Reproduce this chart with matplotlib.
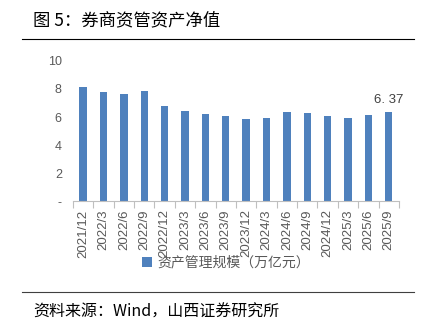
import matplotlib.pyplot as plt
import numpy as np

plt.rcParams['font.family'] = ['Noto Sans CJK SC', 'DejaVu Sans']

quarters = ['2021/12', '2022/3', '2022/6', '2022/9', '2022/12', '2023/3', '2023/6', '2023/9',
            '2023/12', '2024/3', '2024/6', '2024/9', '2024/12', '2025/3', '2025/6', '2025/9']
aum = [8.17, 7.82, 7.65, 7.87, 6.82, 6.44, 6.25, 6.08,
       5.88, 5.93, 6.38, 6.32, 6.08, 5.92, 6.12, 6.37]
yticks = [0, 2, 4, 6, 8, 10]
ytick_labels = ['-', '2', '4', '6', '8', '10']

bar_color = '#4F81BD'
gray = '#595959'

fig = plt.figure(figsize=(4.29, 3.26), dpi=100)
ax = fig.add_axes([0.170, 0.383, 0.760, 0.430])

x = np.arange(len(quarters))
bars = ax.bar(x, aum, width=0.36, color=bar_color, label='资产管理规模（万亿元）')

ax.set_xlim(-0.5, len(quarters) - 0.5)
ax.set_ylim(0, 10)
ax.set_yticks(yticks)
ax.set_yticklabels(ytick_labels, fontsize=9, color=gray, family=['Liberation Sans', 'DejaVu Sans'])
ax.tick_params(axis='y', length=0, pad=8)

# category boundaries as tick marks, labels in the middle
ax.set_xticks(x)
ax.set_xticklabels(quarters, rotation=90, fontsize=9.5, color=gray,
                   family=['Liberation Sans', 'DejaVu Sans'])
ax.tick_params(axis='x', length=0, pad=6)
ax.set_xticks(np.arange(-0.5, len(quarters)), minor=True)
ax.tick_params(axis='x', which='minor', length=5, color='#BFBFBF', width=0.8)

for s in ['top', 'right', 'left']:
    ax.spines[s].set_visible(False)
ax.spines['bottom'].set_color('#BFBFBF')
ax.spines['bottom'].set_linewidth(0.8)

# label on the last bar
last = bars[-1]
ax.annotate('6. 37', xy=(last.get_x() + last.get_width() / 2, last.get_height()),
            xytext=(0, 4), textcoords='offset points', ha='center', va='bottom',
            fontsize=9.5, color='#404040', family=['Liberation Sans', 'DejaVu Sans'])

ax.legend(loc='upper left', bbox_to_anchor=(0.175, -0.30), frameon=False, fontsize=10,
          handlelength=0.7, handleheight=0.7, handletextpad=0.4, labelcolor=gray)

# title, rules and source note
fig.text(33 / 429, 1 - 20 / 326, '图 5：券商资管资产净值', fontsize=12.5, va='center', ha='left')
fig.add_artist(plt.Line2D([22 / 429, 414 / 429], [1 - 39 / 326, 1 - 39 / 326], color='black', lw=0.8))
fig.add_artist(plt.Line2D([22 / 429, 414 / 429], [1 - 292 / 326, 1 - 292 / 326], color='#404040', lw=0.8))
fig.text(33 / 429, 1 - 312 / 326, '资料来源：Wind，山西证券研究所', fontsize=11.5, va='center', ha='left')

fig.savefig('out.png', dpi=100)
